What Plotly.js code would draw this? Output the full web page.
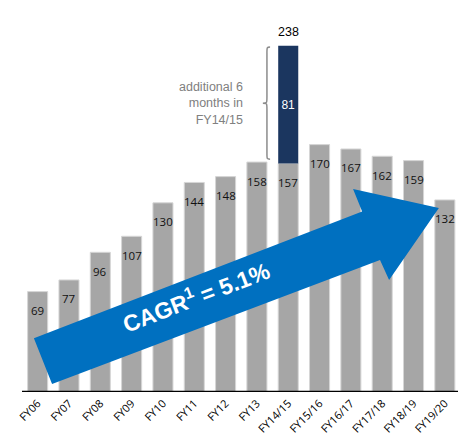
<!DOCTYPE html>
<html>
<head>
<meta charset="utf-8">
<script src="https://cdn.plot.ly/plotly-3.0.1.min.js"></script>
<style>html,body{margin:0;padding:0;background:#fff;}#chart{width:458px;height:444px;}</style>
</head>
<body>
<div id="chart"></div>
<script>
// ---- data ----
const categories = ["FY06","FY07","FY08","FY09","FY10","FY11","FY12","FY13","FY14/15","FY15/16","FY16/17","FY17/18","FY18/19","FY19/20"];
const baseValues = [69,77,96,107,130,144,148,158,157,170,167,162,159,132];
const extraCategory = "FY14/15";
const extraValue = 81;
const extraTotal = 238;
const extraNote = "additional 6<br>months in<br>FY14/15";
const cagrText = "CAGR<sup>1</sup> = 5.1%";

// ---- build ----
const idx = categories.map((c, i) => i);
const ei = categories.indexOf(extraCategory);
const eBase = baseValues[ei];

const grayBars = {
  type: 'bar', x: idx, y: baseValues, width: 0.64,
  marker: {color: '#a6a6a6', line: {color: '#d6d6d6', width: 1}},
  hoverinfo: 'skip', showlegend: false
};
const navyBar = {
  type: 'bar', x: [ei], y: [extraValue], base: [eBase], width: 0.64,
  marker: {color: '#1b365f', line: {width: 0}},
  text: [String(extraValue)], textposition: 'inside', insidetextanchor: 'middle',
  textfont: {color: '#ffffff', family: 'Liberation Sans, Arial, sans-serif', size: 12},
  hoverinfo: 'skip', showlegend: false
};

const annotations = baseValues.map((v, i) => ({
  x: i, y: v, xref: 'x', yref: 'y', text: String(v), showarrow: false,
  yanchor: 'middle', yshift: -19,
  font: {family: 'Open Sans, Carlito, sans-serif', size: 11.5, color: '#111'}
}));
annotations.push({
  x: ei, y: extraTotal, xref: 'x', yref: 'y', text: String(extraTotal), showarrow: false,
  yanchor: 'bottom', yshift: 5,
  font: {family: 'Liberation Sans, Arial, sans-serif', size: 12.5, color: '#000'}
});

// brace geometry tied to the extra segment
const bTop = extraTotal - 1, bBot = eBase + 3, bMid = (bTop + bBot) / 2;
const xe = ei - 0.58, xm = ei - 0.68, xp = ei - 0.81;
const c = 4;
const bracePath = `M ${xe} ${bTop} C ${xm} ${bTop} ${xm} ${bTop} ${xm} ${bTop - c}` +
  ` L ${xm} ${bMid + c} C ${xm} ${bMid} ${xm} ${bMid} ${xp} ${bMid}` +
  ` C ${xm} ${bMid} ${xm} ${bMid} ${xm} ${bMid - c}` +
  ` L ${xm} ${bBot + c} C ${xm} ${bBot} ${xm} ${bBot} ${xe} ${bBot}`;

annotations.push({
  x: xp, y: bMid, xref: 'x', yref: 'y', text: extraNote, showarrow: false,
  xanchor: 'right', yanchor: 'middle', align: 'right', xshift: -18,
  font: {family: 'Liberation Sans, Arial, sans-serif', size: 12.5, color: '#808080'}
});

// CAGR arrow (decorative)
const n = categories.length - 1;
const arrowPts = [
  [-0.12, 37], [10.36, 124], [10.07, 139.5], [n - 0.19, baseValues[n] - 5.5],
  [11.22, 77], [10.93, 90.7], [0.46, 5.5]
];
const arrowPath = 'M ' + arrowPts.map(p => p[0] + ' ' + p[1]).join(' L ') + ' Z';

annotations.push({
  x: 5.05, y: 66, xref: 'x', yref: 'y', text: cagrText, showarrow: false,
  textangle: -21,
  font: {family: 'Liberation Sans, Arial, sans-serif', size: 23, color: '#ffffff', weight: 'bold'}
});

const layout = {
  width: 458, height: 444,
  margin: {l: 22, r: 0, t: 10, b: 52},
  paper_bgcolor: '#ffffff', plot_bgcolor: '#ffffff',
  barmode: 'overlay', bargap: 0.36,
  xaxis: {
    type: 'linear', range: [-0.5, n + 0.42], tickvals: idx, ticktext: categories,
    tickangle: -45, showgrid: false, zeroline: false, showline: false, ticks: '',
    ticklabelstandoff: 2,
    tickfont: {family: 'Open Sans, Carlito, sans-serif', size: 11, color: '#000'},
    fixedrange: true
  },
  yaxis: {
    range: [0, 262.5], visible: false, showgrid: false, zeroline: false, fixedrange: true
  },
  shapes: [
    {type: 'path', path: bracePath, xref: 'x', yref: 'y', line: {color: '#8c8c8c', width: 1.5}},
    {type: 'path', path: arrowPath, xref: 'x', yref: 'y', fillcolor: '#0070c0', line: {width: 0}, layer: 'above'},
    {type: 'line', xref: 'paper', yref: 'y', x0: 0, x1: 1, y0: 0, y1: 0, line: {color: '#000', width: 2.5}}
  ],
  annotations: annotations,
  showlegend: false
};

Plotly.newPlot('chart', [grayBars, navyBar], layout, {displayModeBar: false, staticPlot: true});
</script>
</body>
</html>
